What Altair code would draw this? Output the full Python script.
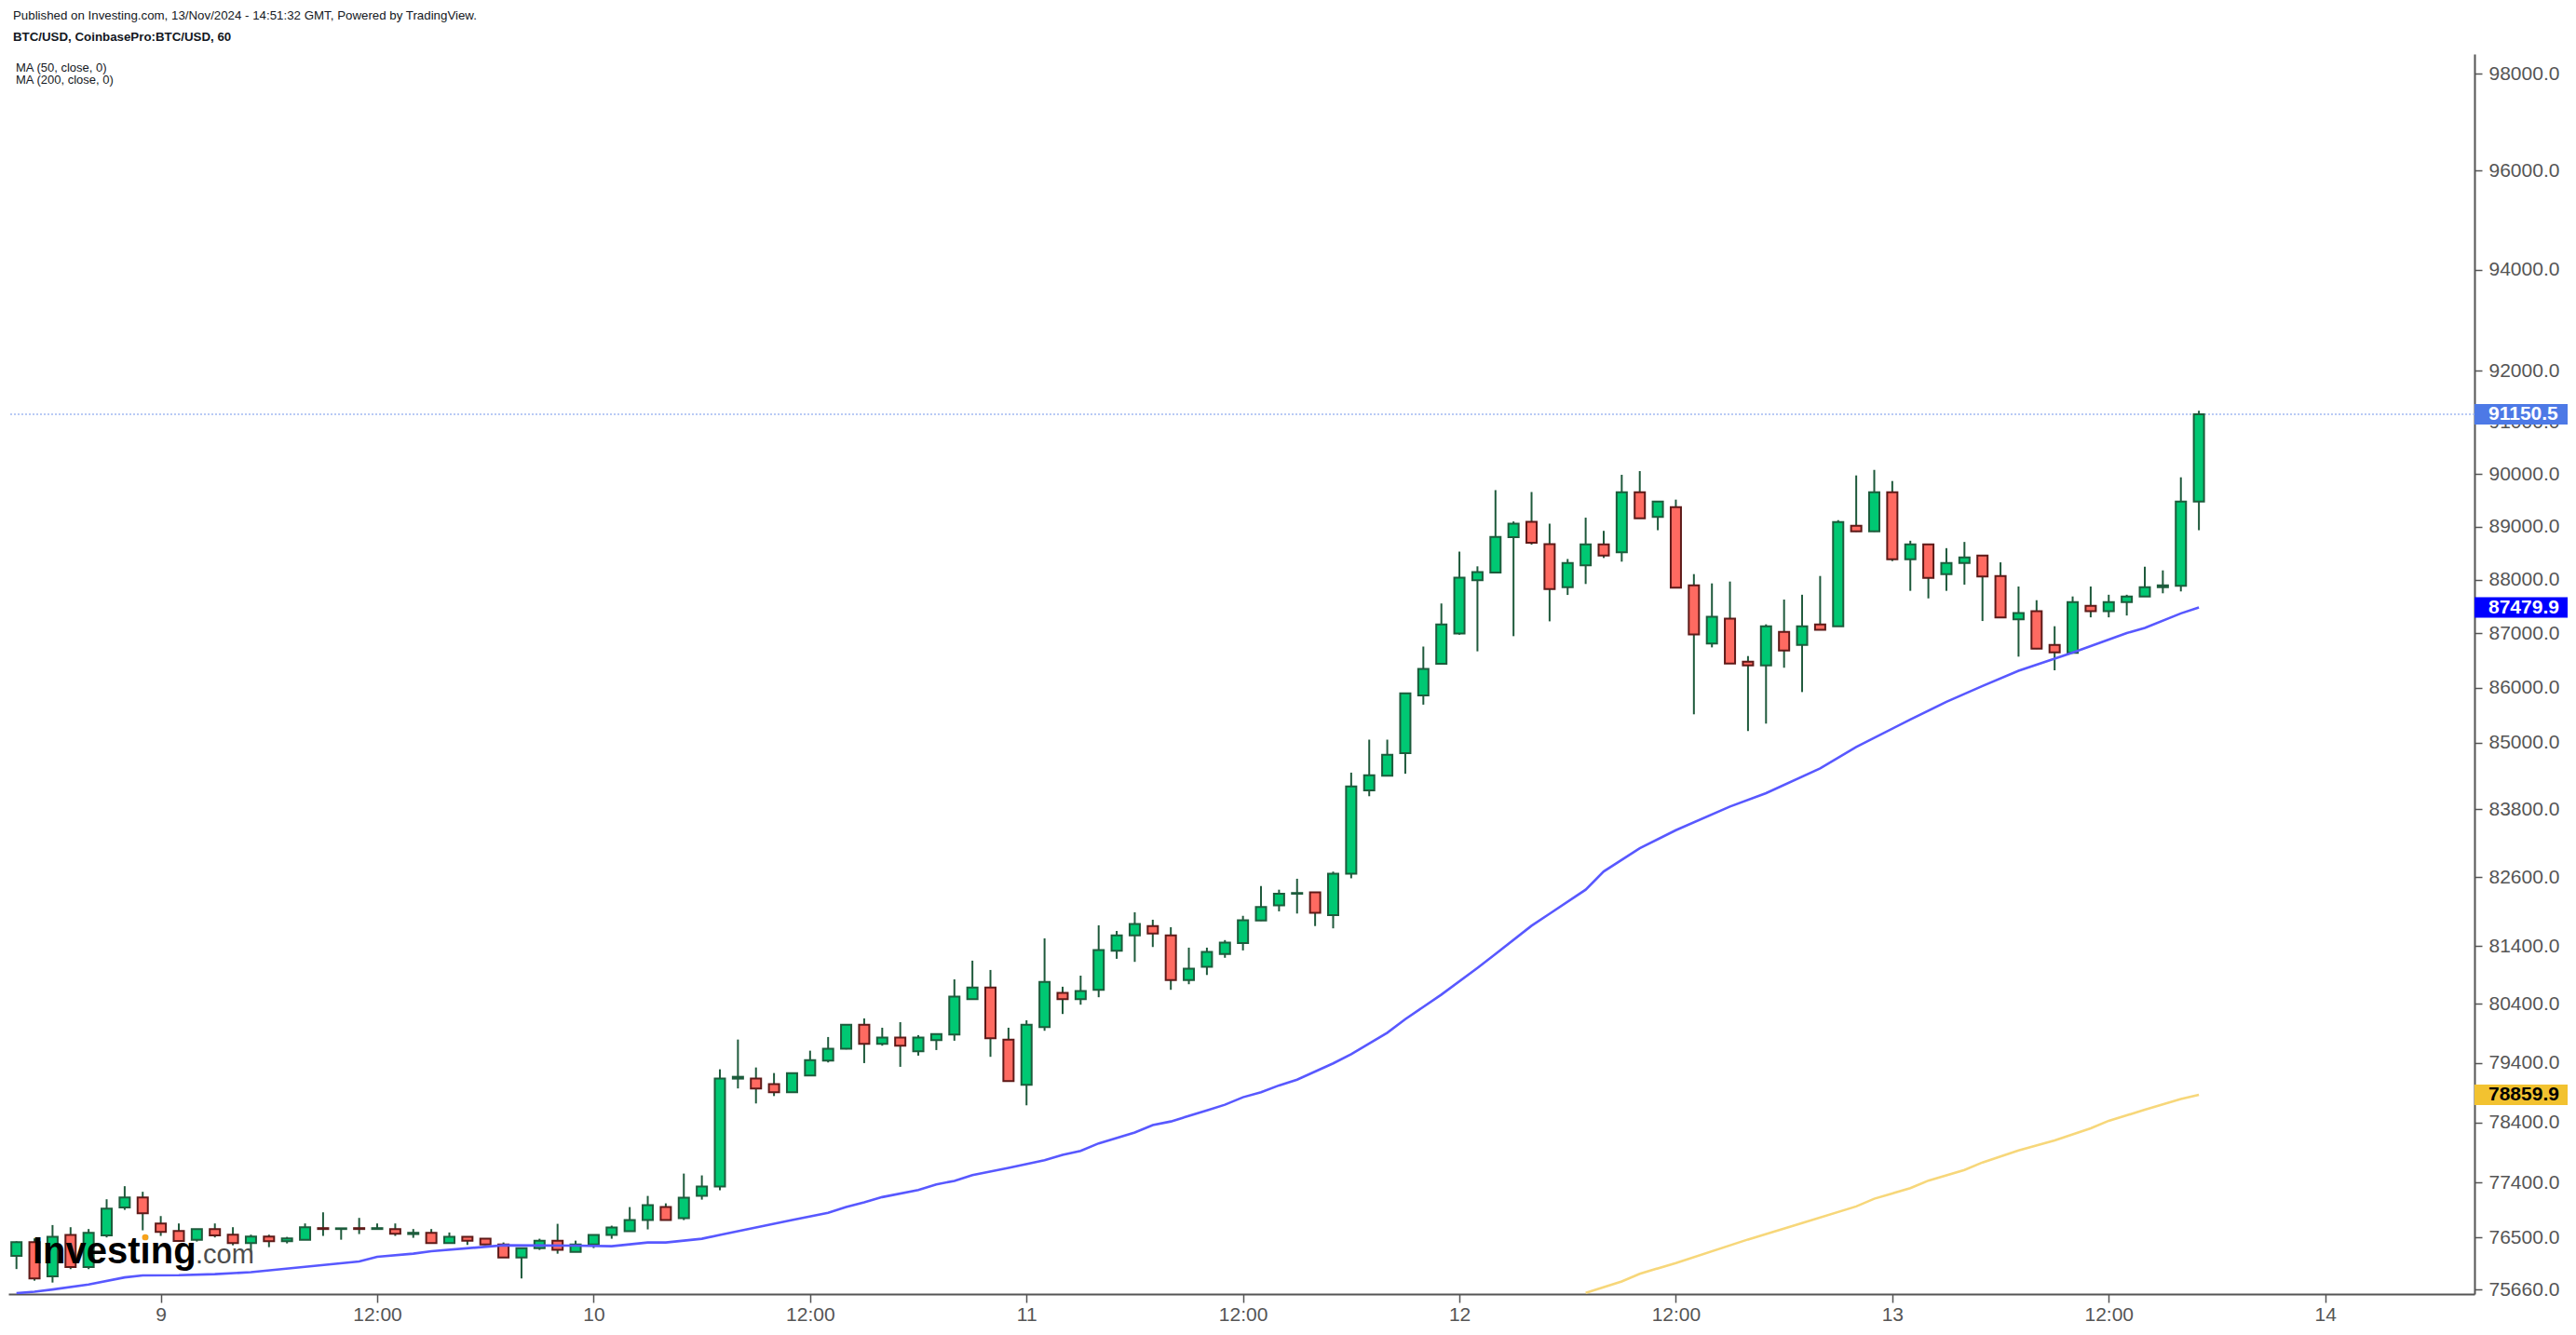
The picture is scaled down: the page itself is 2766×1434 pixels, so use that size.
import altair as alt
import pandas as pd

# ---------------- data (hourly BTC/USD candles, hours relative to 9 Nov 2024 00:00) ----------------
opens = [76204, 76427, 75873, 76543, 76023, 76538, 76994, 77158, 76731, 76609,
         76466, 76640, 76548, 76411, 76518, 76442, 76466, 76655, 76640, 76655,
         76640, 76640, 76558, 76579, 76411, 76512, 76482, 76390, 76178, 76330,
         76451, 76269, 76390, 76543, 76603, 76786, 76999, 76816, 77182, 77336,
         79133, 79133, 79039, 78905, 79186, 79438, 79637, 80047, 79722, 79826,
         79596, 79785, 79880, 80484, 80684, 79794, 79030, 80006, 80589, 80484,
         80643, 81317, 81584, 81746, 81584, 80812, 81037, 81259, 81451, 81840,
         82104, 82309, 82335, 81936, 82659, 84140, 84404, 84808, 85857, 86438,
         86995, 87988, 88133, 88799, 89089, 88665, 87857, 88267, 88661, 88512,
         89653, 89181, 89369, 87894, 86809, 87272, 86477, 86409, 87028, 86785,
         87166, 87131, 89015, 88907, 89653, 88382, 88661, 88103, 88312, 88452,
         88068, 87259, 87409, 86785, 86638, 87511, 87409, 87580, 87685, 87859,
         87883, 89476]
highs = [76440, 76488, 76705, 76670, 76640, 77127, 77342, 77250, 76852, 76731,
         76640, 76731, 76670, 76548, 76548, 76512, 76731, 76913, 76655, 76822,
         76731, 76731, 76640, 76640, 76584, 76512, 76482, 76421, 76335, 76482,
         76725, 76451, 76548, 76695, 76999, 77182, 77060, 77550, 77520, 79290,
         79794, 79321, 79227, 79235, 79605, 79837, 80055, 80154, 79995, 80090,
         79869, 79895, 80823, 81145, 80984, 79995, 80122, 81531, 80696, 80887,
         81758, 81660, 81985, 81855, 81725, 81370, 81370, 81501, 81923, 82444,
         82380, 82572, 82340, 82697, 84458, 85053, 85053, 85900, 86755, 87554,
         88526, 88249, 89692, 89096, 89656, 89054, 88387, 89168, 88918, 89985,
         90056, 89480, 89511, 88103, 87929, 87964, 86580, 87166, 87627, 87717,
         88068, 89121, 89973, 90079, 89866, 88731, 88665, 88591, 88708, 88455,
         88324, 87871, 87615, 87131, 87685, 87871, 87717, 87717, 88242, 88173,
         89937, 91220]
lows = [75990, 75802, 75772, 75989, 75989, 76503, 76953, 76619, 76528, 76446,
        76436, 76503, 76375, 76260, 76345, 76406, 76466, 76528, 76466, 76558,
        76635, 76528, 76497, 76411, 76411, 76381, 76381, 76178, 75838, 76300,
        76239, 76269, 76330, 76482, 76600, 76634, 76786, 76786, 77121, 77275,
        78968, 78716, 78840, 78900, 79180, 79406, 79627, 79395, 79690, 79332,
        79521, 79616, 79774, 80480, 79501, 79090, 78685, 79943, 80229, 80388,
        80516, 81177, 81124, 81381, 80643, 80739, 80898, 81195, 81322, 81835,
        82001, 81963, 81745, 81705, 82580, 84035, 84400, 84438, 85689, 86430,
        86974, 86667, 88130, 86947, 88658, 87222, 87713, 87918, 88406, 88337,
        89150, 88930, 87845, 85513, 86740, 86440, 85209, 85344, 86365, 85919,
        87060, 87125, 88900, 88900, 88347, 87790, 87649, 87790, 87906, 87228,
        87290, 86569, 86710, 86318, 86630, 87296, 87296, 87330, 87680, 87744,
        87779, 88930]
closes = [76427, 75838, 76512, 76023, 76579, 76974, 77158, 76898, 76594, 76446,
          76640, 76538, 76411, 76518, 76442, 76488, 76670, 76640, 76652, 76640,
          76655, 76564, 76579, 76411, 76512, 76451, 76390, 76178, 76330, 76451,
          76300, 76390, 76543, 76664, 76786, 77029, 76786, 77152, 77336, 79133,
          79164, 78968, 78905, 79227, 79447, 79637, 80047, 79722, 79826, 79690,
          79826, 79889, 80525, 80684, 79817, 79092, 80047, 80780, 80484, 80621,
          81327, 81584, 81779, 81617, 80812, 81005, 81295, 81457, 81847, 82078,
          82309, 82322, 81976, 82659, 84212, 84411, 84781, 85897, 86342, 87164,
          88035, 88140, 88804, 89054, 88693, 87823, 88312, 88661, 88452, 89653,
          89156, 89476, 87849, 86979, 87306, 86443, 86409, 87131, 86682, 87131,
          87063, 89086, 88907, 89653, 88382, 88661, 88033, 88312, 88417, 88057,
          87296, 87374, 86717, 86648, 87580, 87409, 87580, 87685, 87859, 87894,
          89476, 91150.5]
hours = list(range(-8, -8 + len(opens)))  # 8 Nov 16:00 ... 13 Nov 17:00

ma50_hours = [-8, -7, -6, -4, -2, -1, 1, 3, 5, 11,
              12, 14, 15, 19, 23, 25, 27, 28, 30, 31,
              33, 35, 37, 38, 39, 40, 42, 43, 44, 45,
              47, 49, 50, 51, 52, 54, 55, 56, 58, 59,
              60, 61, 62, 63, 65, 66, 68, 69, 71, 73,
              74, 76, 77, 79, 80, 82, 84, 87, 89, 92,
              94, 97, 99, 101, 103, 106, 109, 110, 112, 113]
ma50_values = [75600, 75625, 75660, 75740, 75855, 75888, 75890, 75908, 75940, 76114,
               76189, 76239, 76279, 76375, 76370, 76360, 76421, 76421, 76482, 76543,
               76664, 76786, 76905, 76999, 77075, 77163, 77280, 77370, 77430, 77525,
               77645, 77770, 77860, 77925, 78050, 78230, 78355, 78415, 78600, 78695,
               78820, 78905, 79019, 79115, 79390, 79545, 79910, 80140, 80560, 81020,
               81260, 81750, 81960, 82380, 82700, 83110, 83430, 83850, 84090, 84533,
               84920, 85418, 85740, 86030, 86310, 86645, 87005, 87100, 87370, 87479.9]

ma200_hours = [79, 81, 82, 84, 88, 91, 94, 95, 97, 98, 100, 101, 103, 105, 107, 108, 110, 112, 113]
ma200_values = [75607, 75790, 75914, 76088, 76470, 76736, 77010, 77136, 77310, 77434,
                77610, 77734, 77931, 78100, 78300, 78426, 78610, 78789, 78859.9]

ytick_values = [98000, 96000, 94000, 92000, 91000, 90000, 89000, 88000, 87000, 86000,
                85000, 83800, 82600, 81400, 80400, 79400, 78400, 77400, 76500, 75660]
xtick_hours = [0, 12, 24, 36, 48, 60, 72, 84, 96, 108, 120]
xtick_labels = ["9", "12:00", "10", "12:00", "11", "12:00", "12", "12:00", "13", "12:00", "14"]

marker_values = [91150.5, 87479.9, 78859.9]
marker_labels = ["91150.5", "87479.9", "78859.9"]
marker_bg = ["#4d79e6", "#0000ff", "#f2c230"]
marker_fg = ["#ffffff", "#ffffff", "#000000"]

header_1 = "Published on Investing.com, 13/Nov/2024 - 14:51:32 GMT, Powered by TradingView."
header_2 = "BTC/USD, CoinbasePro:BTC/USD, 60"
legend_1 = "MA (50, close, 0)"
legend_2 = "MA (200, close, 0)"

# ---------------- build ----------------
FONT = "Liberation Sans"
W, H = 2648, 1332
XDOM = [-8.19, 128.02]
YDOM = [75587, 98416]

candles = pd.DataFrame({"h": hours, "open": opens, "high": highs, "low": lows, "close": closes})
candles["body_lo"] = candles[["open", "close"]].min(axis=1)
candles["body_hi"] = candles[["open", "close"]].max(axis=1)
candles["dir"] = ["up" if c >= o else "down" for o, c in zip(opens, closes)]

ma50 = pd.DataFrame({"h": ma50_hours, "v": ma50_values})
ma200 = pd.DataFrame({"h": ma200_hours, "v": ma200_values})
markers = pd.DataFrame({"v": marker_values, "label": marker_labels, "bg": marker_bg, "fg": marker_fg})

xscale = alt.Scale(domain=XDOM, nice=False, zero=False)
yscale = alt.Scale(type="log", domain=YDOM, nice=False, zero=False)

label_expr = "[" + ",".join("'%s'" % l for l in xtick_labels) + "][indexof([" + \
    ",".join(str(v) for v in xtick_hours) + "], datum.value)]"

xaxis = alt.Axis(values=xtick_hours, labelExpr=label_expr, title=None, grid=False,
                 domainColor="#555555", domainWidth=2, tickColor="#555555", tickWidth=1.5,
                 tickSize=9, labelFontSize=21, labelColor="#555555", labelFont=FONT,
                 labelPadding=2, labelOverlap=False, labelFlush=False)
yaxis = alt.Axis(orient="right", values=ytick_values, format=".1f", title=None, grid=False,
                 domainColor="#555555", domainWidth=2, tickColor="#555555", tickWidth=1.5,
                 tickSize=8, labelFontSize=21, labelColor="#555555", labelFont=FONT,
                 labelPadding=7, labelOverlap=False, labelFlush=False, labelBaseline="middle")

wicks = alt.Chart(candles).mark_rule(color="#1f5a3c", strokeWidth=2).encode(
    x=alt.X("h:Q", scale=xscale, axis=xaxis),
    y=alt.Y("low:Q", scale=yscale, axis=yaxis),
    y2="high:Q",
)

bodies = alt.Chart(candles).mark_bar(size=11, strokeWidth=2).encode(
    x="h:Q",
    y="body_lo:Q",
    y2="body_hi:Q",
    fill=alt.Fill("dir:N", scale=alt.Scale(domain=["up", "down"], range=["#00c873", "#ff6a61"]), legend=None),
    stroke=alt.Stroke("dir:N", scale=alt.Scale(domain=["up", "down"], range=["#1d5c3c", "#5e1a18"]), legend=None),
)

price_line = alt.Chart(markers.iloc[[0]]).mark_rule(
    color="#a3b9f2", strokeDash=[2, 2], strokeWidth=1.5
).encode(y="v:Q")

ma50_line = alt.Chart(ma50).mark_line(color="#5858ff", strokeWidth=2.6, clip=True).encode(
    x="h:Q", y="v:Q")
ma200_line = alt.Chart(ma200).mark_line(color="#f7d77a", strokeWidth=2.6, clip=True).encode(
    x="h:Q", y="v:Q")

boxes = alt.Chart(markers).mark_tick(orient="horizontal", size=100, thickness=22, opacity=1).encode(
    x=alt.value(W + 50), y="v:Q", color=alt.Color("bg:N", scale=None))
box_text = alt.Chart(markers).mark_text(
    align="left", baseline="middle", fontSize=21, fontWeight="bold", font=FONT
).encode(x=alt.value(W + 15), y="v:Q", text="label:N", color=alt.Color("fg:N", scale=None))


def label(txt, x, y, size=12, weight="normal", color="#131722", baseline="middle"):
    return alt.Chart(pd.DataFrame({"t": [txt]})).mark_text(
        align="left", baseline=baseline, fontSize=size, fontWeight=weight, font=FONT, color=color
    ).encode(x=alt.value(x), y=alt.value(y), text="t:N")


texts = [
    label(header_1, 5, -41, 13.3),
    label(header_2, 5, -18, 13.3, "bold"),
    label(legend_1, 8, 15, 13),
    label(legend_2, 8, 28, 13),
    label("Investing", 26, 1299, 40, "bold", "#000000", "alphabetic"),
    label(".com", 201, 1299, 29, "normal", "#4d4d4d", "alphabetic"),
]
dot = alt.Chart(pd.DataFrame({"t": [1]})).mark_point(
    filled=True, color="#f7a21b", size=45, opacity=1
).encode(x=alt.value(147), y=alt.value(1271))

chart = alt.layer(
    price_line, wicks, bodies, ma50_line, ma200_line, *texts, dot, boxes, box_text
).properties(
    width=W, height=H,
    padding={"left": 1, "top": 50, "right": 101, "bottom": 36},
    autosize=alt.AutoSizeParams(type="none"),
    background="#ffffff",
).configure_view(stroke=None)

chart.save("out.html", embed_options={"renderer": "svg", "actions": False})
